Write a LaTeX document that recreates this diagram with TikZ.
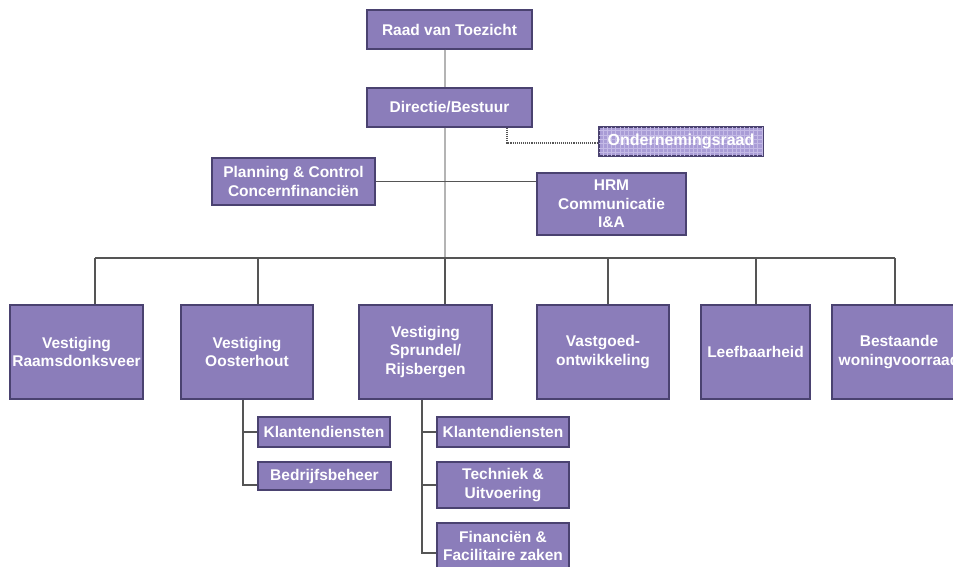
\documentclass[tikz,border=0pt]{standalone}
\usepackage{fontspec}
\setmainfont{Liberation Sans}
\definecolor{boxfill}{HTML}{8B7DBA}
\definecolor{boxedge}{HTML}{4A4270}
\definecolor{orfill}{HTML}{A99CD6}
\definecolor{orgrid}{HTML}{C4BAE6}
\definecolor{lightline}{HTML}{B4B4B4}
\definecolor{darkline}{HTML}{555555}
\tikzset{
  orgbox/.style={draw=boxedge, line width=1.1pt, fill=boxfill, text=white,
    font=\fontsize{15.5}{18.5}\selectfont\bfseries, align=center, inner sep=0pt},
  orbox/.style={draw=boxedge, line width=1.1pt, fill=orfill, text=white,
    font=\fontsize{16}{18.5}\selectfont\bfseries, align=center, inner sep=0pt},
  light/.style={draw=lightline, line width=2pt},
  dark/.style={draw=darkline, line width=1.3pt},
  dotline/.style={draw=darkline, line width=1.1pt, densely dotted},
  gridline/.style={draw=orgrid, line width=0.5pt},
}
\begin{document}
\begin{tikzpicture}[x=1pt,y=-1pt]
\useasboundingbox (0,0) rectangle (953,567);
\clip (0,0) rectangle (953,567);

% top level
\node[orgbox, minimum width=165, minimum height=39] (raad) at (449.5,29.5) {Raad van Toezicht};
\node[orgbox, minimum width=165, minimum height=39] (dir) at (449.5,107.5) {Directie/Bestuur};

% Ondernemingsraad with grid pattern
\node[orbox, minimum width=164, minimum height=29] (or) at (681,141.5) {};
\begin{scope}
  \clip (or.north west) rectangle (or.south east);
  \foreach \gx in {0,4.3,...,170} {\draw[gridline] ([xshift=\gx]or.north west) -- ([xshift=\gx]or.south west);}
  \foreach \gy in {0,4.3,...,32} {\draw[gridline] ([yshift=-\gy]or.north west) -- ([yshift=-\gy]or.north east);}
\end{scope}
\draw[draw=boxedge, line width=1.1pt] (or.north west) rectangle (or.south east);
\node[text=white, font=\fontsize{16}{18.5}\selectfont\bfseries] (ortext) at (or.center) {Ondernemingsraad};

\node[orgbox, minimum width=163, minimum height=47] (pc) at (293.5,181.5) {Planning \& Control\\Concernfinanciën};
\node[orgbox, minimum width=149, minimum height=62] (hrm) at (611.5,204) {HRM\\Communicatie\\I\&A};

% second row
\node[orgbox, minimum width=133, minimum height=94] (raams) at (76.5,352) {Vestiging\\Raamsdonksveer};
\node[orgbox, minimum width=132, minimum height=94] (oost) at (247,352) {Vestiging\\Oosterhout};
\node[orgbox, minimum width=133, minimum height=94] (spr) at (425.5,352) {Vestiging\\Sprundel/\\Rijsbergen};
\node[orgbox, minimum width=132, minimum height=94] (vast) at (603,352) {Vastgoed-\\ontwikkeling};
\node[orgbox, minimum width=109, minimum height=94] (leef) at (755.5,352) {Leefbaarheid};
\node[orgbox, minimum width=134, minimum height=94] (best) at (899,352) {Bestaande\\woningvoorraad};

% sub boxes
\node[orgbox, minimum width=132, minimum height=30] (kl1) at (324,432) {Klantendiensten};
\node[orgbox, minimum width=133, minimum height=28] (bedr) at (324.5,476) {Bedrijfsbeheer};
\node[orgbox, minimum width=132, minimum height=30] (kl2) at (503,432) {Klantendiensten};
\node[orgbox, minimum width=132, minimum height=46] (tech) at (503,485) {Techniek \&\\Uitvoering};
\node[orgbox, minimum width=132, minimum height=46] (fin) at (503,546) {Financiën \&\\Facilitaire zaken};

% coordinates
\coordinate (busL) at (95,258);
\coordinate (busR) at (895,258);
\coordinate (busC) at (445,258);
\coordinate (orcorner) at (507,143);
\coordinate (t1) at (243,485);
\coordinate (t2) at (422,553);

% connectors
\draw[light] (raad.south -| busC) -- (dir.north -| busC);
\draw[light] (dir.south -| busC) -- (busC);
\draw[dotline] (dir.south -| orcorner) -- (orcorner) -- (or.west |- orcorner);
\draw[dark] (pc.east) -- (hrm.west |- pc.east);
\draw[dark] (busL) -- (busR);
\draw[dark] (busL) -- (busL |- raams.north);
\draw[dark] (258,258) -- (258,0 |- oost.north);
\draw[dark] (busC) -- (busC |- spr.north);
\draw[dark] (608,258) -- (608,0 |- vast.north);
\draw[dark] (756,258) -- (756,0 |- leef.north);
\draw[dark] (busR) -- (busR |- best.north);
% Oosterhout subtree
\draw[dark] (oost.south -| t1) -- (t1) -- (bedr.west |- t1);
\draw[dark] (t1 |- kl1.west) -- (kl1.west);
% Sprundel subtree
\draw[dark] (spr.south -| t2) -- (t2) -- (fin.west |- t2);
\draw[dark] (t2 |- kl2.west) -- (kl2.west);
\draw[dark] (t2 |- tech.west) -- (tech.west);
\end{tikzpicture}
\end{document}
